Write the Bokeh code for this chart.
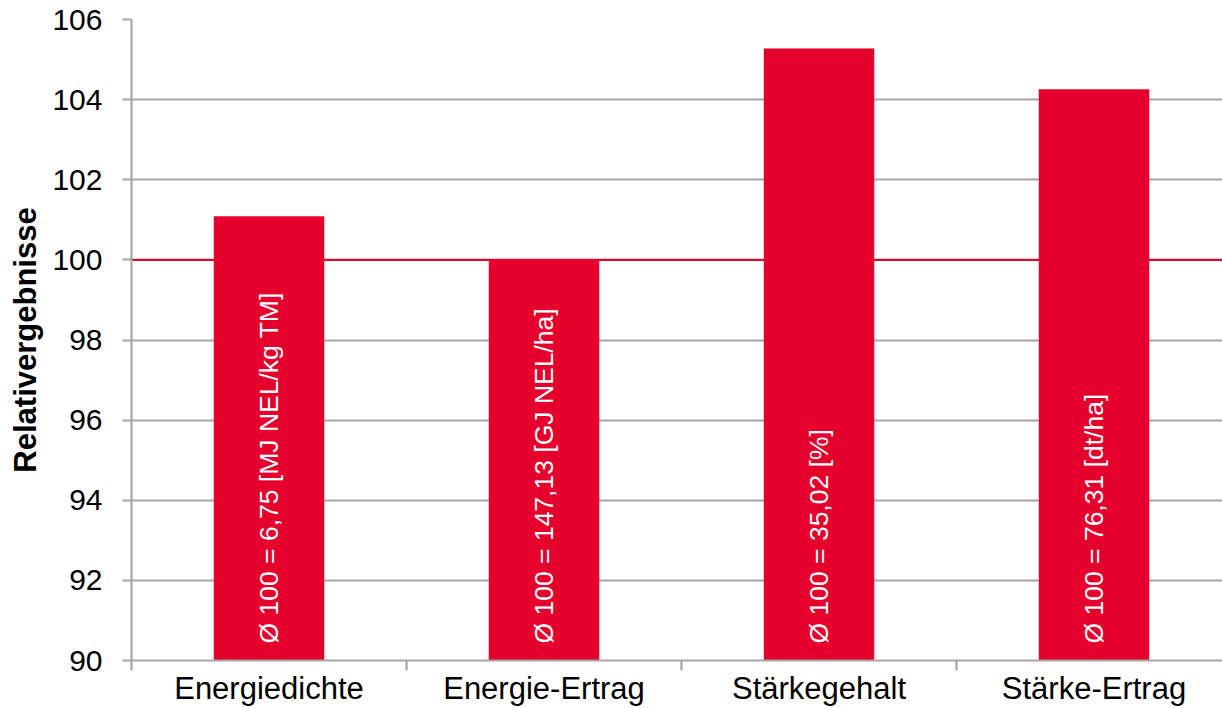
import math
from bokeh.plotting import figure
from bokeh.models import Range1d, FixedTicker, Span, ColumnDataSource
from bokeh.core.properties import value
from bokeh.embed import file_html
from bokeh.resources import INLINE

categories = ["Energiedichte", "Energie-Ertrag", "Stärkegehalt", "Stärke-Ertrag"]
values = [101.08, 99.97, 105.27, 104.25]
bar_labels = [
    "Ø 100 = 6,75 [MJ NEL/kg TM]",
    "Ø 100 = 147,13 [GJ NEL/ha]",
    "Ø 100 = 35,02 [%]",
    "Ø 100 = 76,31 [dt/ha]",
]
y_ticks = [90, 92, 94, 96, 98, 100, 102, 104, 106]
reference_value = 100
y_min, y_max = 90, 106

RED = "#E6002C"
GREY = "#A6A6A6"
FONT = "Liberation Sans"

xs = [i + 0.5 for i in range(len(categories))]
src = ColumnDataSource(dict(x=xs, top=values, label=bar_labels,
                            base=[y_min] * len(categories)))

W, H = 1222, 708
p = figure(width=W, height=H, output_backend="svg", toolbar_location=None,
           x_range=Range1d(0, 1091 / 275), y_range=Range1d(y_min, y_max),
           min_border_left=131, min_border_right=0, min_border_top=19,
           min_border_bottom=48)
p.outline_line_color = None
p.background_fill_color = "white"
p.border_fill_color = "white"

# grid
p.xgrid.visible = False
p.ygrid.ticker = FixedTicker(ticks=y_ticks)
p.ygrid.grid_line_color = GREY
p.ygrid.grid_line_width = 2.2

# reference line at 100
p.add_layout(Span(location=reference_value, dimension="width",
                  line_color=RED, line_width=2, level="underlay"))

# bars
p.vbar(x="x", top="top", bottom="base", width=0.4, source=src,
       fill_color=RED, line_color=RED, line_width=0.5)

# labels inside bars
p.text(x="x", y="base", text="label", source=src, angle=math.pi / 2,
       text_color="white", text_font=value(FONT), text_font_size="26.5px",
       text_align="left", text_baseline="middle", y_offset=-17)

# y axis
ya = p.yaxis[0]
ya.ticker = FixedTicker(ticks=y_ticks, minor_ticks=[])
ya.axis_line_color = GREY
ya.axis_line_width = 2.2
ya.major_tick_line_color = GREY
ya.major_tick_line_width = 2.2
ya.major_tick_out = 9
ya.major_tick_in = 0
ya.minor_tick_line_color = None
ya.major_label_text_font = FONT
ya.major_label_text_font_size = "30px"
ya.major_label_text_color = "black"
ya.major_label_standoff = 20
ya.axis_label = "Relativergebnisse"
ya.axis_label_text_font = FONT
ya.axis_label_text_font_size = "31px"
ya.axis_label_text_font_style = "bold"
ya.axis_label_text_color = "black"
ya.axis_label_standoff = 6

# x axis
xa = p.xaxis[0]
xa.ticker = FixedTicker(ticks=xs, minor_ticks=list(range(len(categories))))
xa.major_label_overrides = {x: c for x, c in zip(xs, categories)}
xa.axis_line_color = GREY
xa.axis_line_width = 2.2
xa.major_tick_line_color = None
xa.major_tick_out = 0
xa.major_tick_in = 0
xa.minor_tick_line_color = GREY
xa.minor_tick_line_width = 2.2
xa.minor_tick_out = 10
xa.minor_tick_in = 0
xa.major_label_text_font = FONT
xa.major_label_text_font_size = "31px"
xa.major_label_text_color = "black"
xa.major_label_standoff = 0

open("out.html", "w").write(file_html(p, INLINE))
